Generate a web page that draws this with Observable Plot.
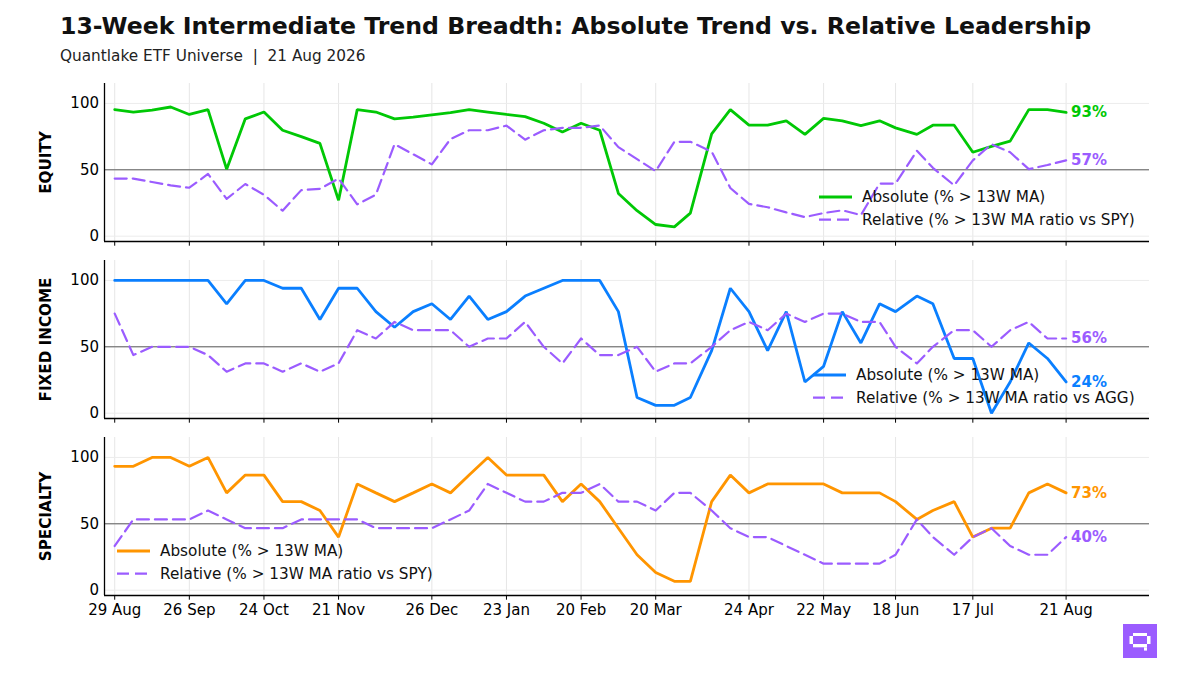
<!DOCTYPE html>
<html>
<head>
<meta charset="utf-8">
<script src="https://cdn.jsdelivr.net/npm/d3@7"></script>
<script src="https://cdn.jsdelivr.net/npm/@observablehq/plot@0.6"></script>
<style>
  html, body { margin: 0; padding: 0; background: #fff; }
  #root { position: relative; width: 1200px; height: 675px; overflow: hidden; background: #fff; font-family: "DejaVu Sans", sans-serif; }
  .abs { position: absolute; }
  svg text { white-space: pre; }
</style>
</head>
<body>
<div id="root"></div>
<script>
// ---------------- DATA ----------------
const dates = [
  "2025-08-29","2025-09-05","2025-09-12","2025-09-19","2025-09-26","2025-10-03","2025-10-10","2025-10-17","2025-10-24","2025-10-31",
  "2025-11-07","2025-11-14","2025-11-21","2025-11-28","2025-12-05","2025-12-12","2025-12-19","2025-12-26","2026-01-02","2026-01-09",
  "2026-01-16","2026-01-23","2026-01-30","2026-02-06","2026-02-13","2026-02-20","2026-02-27","2026-03-06","2026-03-13","2026-03-20",
  "2026-03-27","2026-04-02","2026-04-10","2026-04-17","2026-04-24","2026-05-01","2026-05-08","2026-05-15","2026-05-22","2026-05-29",
  "2026-06-05","2026-06-12","2026-06-18","2026-06-26","2026-07-02","2026-07-10","2026-07-17","2026-07-24","2026-07-31","2026-08-07",
  "2026-08-14","2026-08-21"
];

const tickDates = ["2025-08-29","2025-09-26","2025-10-24","2025-11-21","2025-12-26","2026-01-23","2026-02-20","2026-03-20","2026-04-24","2026-05-22","2026-06-18","2026-07-17","2026-08-21"];
const yTicks = [0, 50, 100];

const panelNames = ["EQUITY", "FIXED INCOME", "SPECIALTY"];
const absLabel = "Absolute (% > 13W MA)";
const relLabels = ["Relative (% > 13W MA ratio vs SPY)", "Relative (% > 13W MA ratio vs AGG)", "Relative (% > 13W MA ratio vs SPY)"];

const equityAbs = [95.3,93.5,95.0,97.3,91.7,95.3,50.5,88.4,93.5,79.8, 75.0,69.9,27.1,95.3,93.5,88.4,89.7,91.4,93.0,95.3,
  93.5,91.7,90.1,85.1,78.5,85.1,79.8,32.2, 19.2,8.8,7.0,17.4,77.0,95.3,83.6,83.6,86.9,76.7, 88.7,86.9,83.3,86.9,81.6,76.7,83.6,83.6,63.2,67.6,
  71.6,95.3,95.3,93.2];
const equityRel = [43.4,43.4,40.8,38.3,36.5,46.9,28.1,39.3,31.2,19.2, 34.7,35.7,43.4,24.0,31.2,69.3,61.7,54.1,73.2,79.8,
  79.8,83.3,72.7,79.8,81.6,81.6,83.3,67.1, 58.0,49.0,71.1,71.1,63.7,36.3,24.3,21.8,17.9,14.4, 17.4,19.5,15.9,39.6,39.6,64.3,51.5,38.3,57.1,69.3,
  63.2,50.5,53.6,57.1];

const fixedAbs = [100,100,100,100,100,100,82.4,100,100,94.1, 94.1,70.6,94.1,94.1,76.5,64.7,76.5,82.4,70.6,88.2,
  70.6,76.5,88.2,94.1,100,100,100,76.5, 11.8,5.9,5.9,11.8,47.1,94.1,76.5,47.1,76.5,23.5, 35.3,76.5,52.9,82.4,76.5,88.2,82.4,41.2,41.2,0,
  23.5,52.9,41.2,23.5];
const fixedRel = [75,43.75,50,50,50,43.75,31.25,37.5,37.5,31.25, 37.5,31.25,37.5,62.5,56.25,68.75,62.5,62.5,62.5,50,
  56.25,56.25,68.75,50,37.5,56.25,43.75,43.75, 50,31.25,37.5,37.5,50,62.5,68.75,62.5,75,68.75, 75,75,68.75,68.75,50,37.5,50,62.5,62.5,50,
  62.5,68.75,56.25,56.25];

const specialtyAbs = [93.3,93.3,100,100,93.3,100,73.3,86.7,86.7,66.7, 66.7,60,40,80,73.3,66.7,73.3,80,73.3,86.7,
  100,86.7,86.7,86.7,66.7,80,66.7,46.7, 26.7,13.3,6.7,6.7,66.7,86.7,73.3,80,80,80, 80,73.3,73.3,73.3,66.7,53.3,60,66.7,40,46.7,
  46.7,73.3,80,73.3];
const specialtyRel = [33.3,53.3,53.3,53.3,53.3,60,53.3,46.7,46.7,46.7, 53.3,53.3,53.3,53.3,46.7,46.7,46.7,46.7,53.3,60,
  80,73.3,66.7,66.7,73.3,73.3,80,66.7, 66.7,60,73.3,73.3,60,46.7,40,40,33.3,26.7, 20,20,20,20,26.7,53.3,40,26.7,40,46.7,
  33.3,26.7,26.7,40];

// ---------------- STYLE ----------------
const GREEN = "#00c805", BLUE = "#0a7fff", ORANGE = "#ff9500", PURPLE = "#9b5cff";
const FONT = '"DejaVu Sans", sans-serif';
const parse = d3.utcParse("%Y-%m-%d");
const xDomain = [new Date(Date.UTC(2025, 7, 25, 4)), new Date(Date.UTC(2026, 8, 21, 7))];
const tickDateObjs = tickDates.map(parse);
const fmt = d3.utcFormat("%-d %b");

const root = document.getElementById("root");

// header
root.insertAdjacentHTML("beforeend", `
<svg class="abs" style="left:0;top:0" width="1200" height="75">
  <text x="60" y="34.3" font-family='${FONT}' font-size="23.6" font-weight="bold" fill="#111">13-Week Intermediate Trend Breadth: Absolute Trend vs. Relative Leadership</text>
  <text x="60" y="61" font-family='${FONT}' font-size="15.3" fill="#222">Quantlake ETF Universe  |  21 Aug 2026</text>
</svg>`);

function makePanel(idx, abs, rel, color, top, showX, legendPos) {
  const absData = dates.map((d, i) => ({date: parse(d), v: abs[i]}));
  const relData = dates.map((d, i) => ({date: parse(d), v: rel[i]}));
  const mb = showX ? 40 : 10;
  const plotH = 158;
  const chart = Plot.plot({
    width: 1200,
    height: plotH + 3 + mb,
    marginLeft: 104, marginRight: 51, marginTop: 3, marginBottom: mb,
    style: {fontFamily: FONT, fontSize: "15px", background: "transparent", overflow: "visible", color: "#000"},
    x: {type: "utc", domain: xDomain},
    y: {domain: [-4, 115]},
    marks: [
      Plot.gridX(tickDateObjs, {stroke: "#e6e6e6", strokeOpacity: 1, strokeWidth: 1}),
      Plot.gridY(yTicks, {stroke: "#ececec", strokeOpacity: 1, strokeWidth: 1}),
      Plot.ruleY([50], {stroke: "#5a5a5a", strokeWidth: 1}),
      Plot.line(absData, {x: "date", y: "v", stroke: color, strokeWidth: 2.8, strokeLinejoin: "miter"}),
      Plot.line(relData, {x: "date", y: "v", stroke: PURPLE, strokeWidth: 2.2, strokeDasharray: "12,6"}),
      Plot.axisY(yTicks, {tickSize: 0, tickPadding: 5.5, label: null}),
      Plot.axisX(tickDateObjs, {tickSize: 4.7, tickPadding: 4.5, label: null, tickFormat: showX ? fmt : () => ""}),
      Plot.ruleX([xDomain[0]], {stroke: "#000", strokeWidth: 1.3}),
      Plot.ruleY([-4], {stroke: "#000", strokeWidth: 1.3}),
      Plot.text([absData[absData.length - 1]], {x: "date", y: "v", text: d => `${Math.round(d.v)}%`, dx: 5, textAnchor: "start", fill: color, fontWeight: "bold", fontSize: 15}),
      Plot.text([relData[relData.length - 1]], {x: "date", y: "v", text: d => `${Math.round(d.v)}%`, dx: 5, textAnchor: "start", fill: PURPLE, fontWeight: "bold", fontSize: 15}),
      Plot.text([panelNames[idx]], {frameAnchor: "left", textAnchor: "middle", dx: -58, rotate: -90, fontWeight: "bold", fontSize: 15.2, fill: "#000"})
    ]
  });
  const wrap = document.createElement("div");
  wrap.className = "abs";
  wrap.style.left = "0px";
  wrap.style.top = top + "px";
  wrap.appendChild(chart);
  root.appendChild(wrap);

  // legend
  const [lx, ly] = legendPos;
  root.insertAdjacentHTML("beforeend", `
  <svg class="abs" style="left:${lx}px;top:${ly - 12}px;overflow:visible" width="340" height="48">
    <line x1="0" x2="33" y1="12" y2="12" stroke="${color}" stroke-width="2.8"/>
    <line x1="0" x2="33" y1="34.6" y2="34.6" stroke="${PURPLE}" stroke-width="2.2" stroke-dasharray="12,6"/>
    <text x="43" y="12" dy="0.36em" font-family='${FONT}' font-size="15.25" fill="#111">${absLabel.replace(">", "&gt;")}</text>
    <text x="43" y="34.6" dy="0.36em" font-family='${FONT}' font-size="15.25" fill="#111">${relLabels[idx].replace(">", "&gt;")}</text>
  </svg>`);
}

makePanel(0, equityAbs, equityRel, GREEN, 80, false, [819, 197]);
makePanel(1, fixedAbs, fixedRel, BLUE, 257, false, [813, 375]);
makePanel(2, specialtyAbs, specialtyRel, ORANGE, 434, true, [117, 551]);

// watermark logo
root.insertAdjacentHTML("beforeend", `
<svg class="abs" style="left:1123px;top:624px" width="34" height="34">
  <rect width="34" height="34" fill="${PURPLE}"/>
  <rect x="10" y="9" width="14" height="3" fill="#fff"/>
  <rect x="6.5" y="12" width="3.5" height="8" fill="#fff"/>
  <rect x="24" y="12" width="3.5" height="8" fill="#fff"/>
  <rect x="10" y="20" width="14" height="3.3" fill="#fff"/>
  <rect x="21" y="23.3" width="3" height="3.3" fill="#fff"/>
</svg>`);
</script>
</body>
</html>
